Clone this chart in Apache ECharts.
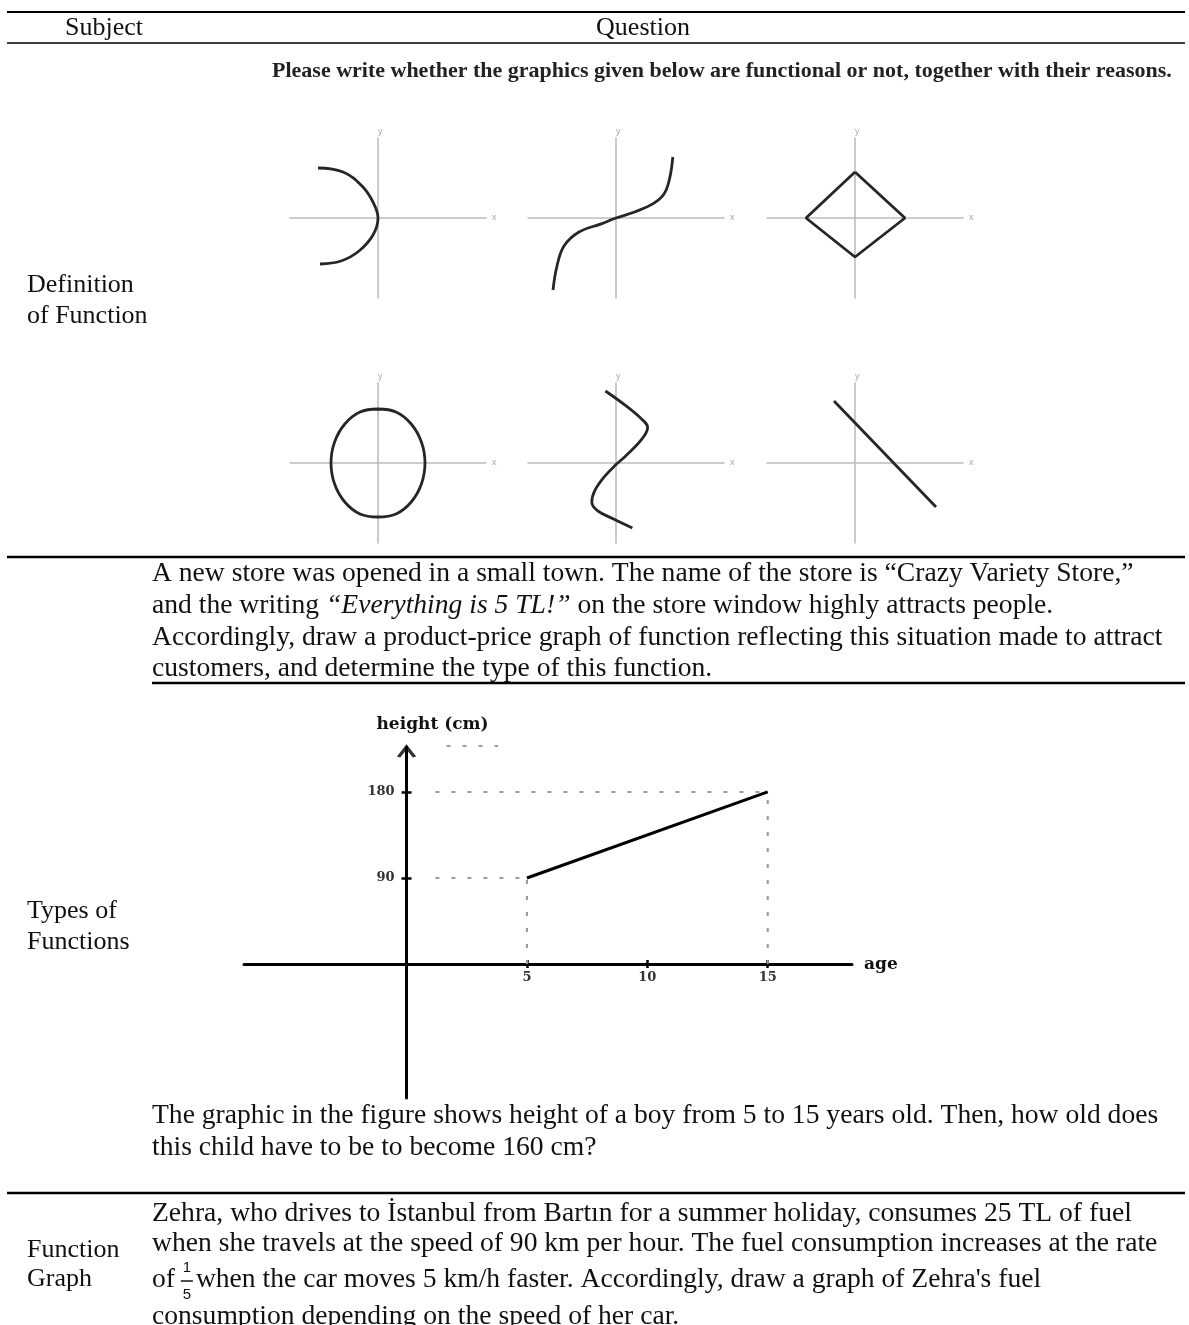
<!DOCTYPE html>
<html>
<head>
<meta charset="utf-8">
<script src="https://cdn.jsdelivr.net/npm/echarts@6/dist/echarts.min.js"></script>
<style>
    html, body { margin: 0; padding: 0; background: #fff; }
    #chart { width: 1189px; height: 1325px; }
</style>
</head>
<body>
<div id="chart"></div>
<script>
'use strict';

// sketches of "Definition of Function" (grid units)
const arcPoints = [[-3.0, 2.5], [-1.75, 2.3], [-0.8, 1.6], [-0.25, 0.8], [0, 0], [-0.25, -0.85], [-0.95, -1.65], [-1.85, -2.15], [-2.9, -2.3]];
const cubicPoints = [[-3.15, -3.6], [-2.95, -2.4], [-2.6, -1.4], [-1.85, -0.7], [-0.7, -0.28], [0, 0], [0.93, 0.3], [1.86, 0.72], [2.4, 1.2], [2.68, 1.97], [2.84, 3.05]];
const diamondPoints = [[0, 2.3], [2.5, 0], [0, -1.95], [-2.45, 0], [0, 2.3]];
const circlePoints = [[0, 2.7], [0.9, 2.55], [1.66, 1.95], [2.17, 1.05], [2.35, 0], [2.17, -1.05], [1.66, -1.95], [0.9, -2.55], [0, -2.7],
    [-0.9, -2.55], [-1.66, -1.95], [-2.17, -1.05], [-2.35, 0], [-2.17, 1.05], [-1.66, 1.95], [-0.9, 2.55], [0, 2.7]];
const wavePoints = [[-0.53, 3.6], [0.47, 2.88], [1.28, 2.2], [1.58, 1.78], [1.28, 1.18], [0.47, 0.34], [0, -0.08], [-0.58, -0.68], [-1.05, -1.36], [-1.21, -1.95], [-0.93, -2.38], [-0.12, -2.8], [0.82, -3.25]];
const slopePoints = [[-1.05, 3.1], [4.05, -2.2]];

// height of a boy chart
const ages = [5, 15];
const heights = [90, 180];
const ageTicks = [5, 10, 15];
const heightTicks = [90, 180];
const guideStart = 1.2;
const topDash = [[1.66, 228], [3.8, 228]];
const ageRange = [-6.75, 18.5];
const heightRange = [-140, 227];

//
const serif = '"Liberation Serif", "Times New Roman", serif';
const wide = '"DejaVu Serif", serif';
const bodySize = 27.6;
const chart = echarts.init(document.getElementById('chart'));

// sketch layout: origin of each little axis cross
const sketchOrigins = [[378, 218], [616, 218], [855, 218], [378, 463], [616, 463], [855, 463]];
const sketchCurves = [arcPoints, cubicPoints, diamondPoints, circlePoints, wavePoints, slopePoints];
const sketchSmooth = [0.4, 0.4, false, 0.4, 0.4, false];
const unit = 20;
const xr = [-4.4, 5.4], yr = [-4, 4];

let grids = [], xAxes = [], yAxes = [], series = [];
sketchOrigins.forEach(function (o, i) {
    grids.push({
        left: o[0] + xr[0] * unit, top: o[1] - yr[1] * unit,
        width: (xr[1] - xr[0]) * unit, height: (yr[1] - yr[0]) * unit
    });
    let thin = {
        axisLine: { onZero: true, lineStyle: { color: '#bdbdbd', width: 1.6 } },
        axisTick: { show: false }, axisLabel: { show: false }, splitLine: { show: false }
    };
    xAxes.push(Object.assign({
        type: 'value', gridIndex: i, min: xr[0], max: xr[1],
        name: 'x', nameGap: 6, nameTextStyle: { color: '#aaa', fontSize: 9 }
    }, thin));
    yAxes.push(Object.assign({
        type: 'value', gridIndex: i, min: yr[0], max: yr[1],
        name: 'y', nameGap: 2, nameTextStyle: { color: '#aaa', fontSize: 9, align: 'left' }
    }, thin));
    series.push({
        type: 'line', xAxisIndex: i, yAxisIndex: i, data: sketchCurves[i],
        smooth: sketchSmooth[i], symbol: 'none', silent: true,
        lineStyle: { color: '#262626', width: 2.8 }
    });
});

// height-age chart: one grid for the crossing axis lines, one sharing the
// same scale but starting at the origin, which carries ticks and labels
const hBox = { left: 244, top: 747, width: 608, height: 351 };
const pxPerAge = hBox.width / (ageRange[1] - ageRange[0]);
const pxPerCm = hBox.height / (heightRange[1] - heightRange[0]);
const originX = hBox.left - ageRange[0] * pxPerAge;

let h = sketchOrigins.length;
let hl = h + 1;
grids.push(hBox);
grids.push({ left: originX, top: hBox.top, width: ageRange[1] * pxPerAge, height: heightRange[1] * pxPerCm });
const boldLabel = { fontFamily: wide, fontWeight: 'bold', fontSize: 13, color: '#333' };
xAxes.push({
    type: 'value', gridIndex: h, min: ageRange[0], max: ageRange[1],
    name: 'age', nameGap: 12,
    nameTextStyle: { fontFamily: wide, fontWeight: 'bold', fontSize: 17, color: '#111', padding: [0, 0, 6, 0] },
    axisLine: { onZero: true, lineStyle: { color: '#000', width: 3 } },
    axisTick: { show: true, inside: true, customValues: ageTicks, length: 4, lineStyle: { color: '#000', width: 2.5 } },
    axisLabel: { show: false }, splitLine: { show: false }
});
yAxes.push({
    type: 'value', gridIndex: h, min: heightRange[0], max: heightRange[1],
    name: 'height (cm)', nameGap: 14,
    nameTextStyle: { fontFamily: wide, fontWeight: 'bold', fontSize: 17, color: '#111', padding: [0, 0, 0, 52] },
    axisLine: { onZero: true, lineStyle: { color: '#000', width: 3 } },
    axisTick: { show: true, inside: true, customValues: heightTicks, length: 5, lineStyle: { color: '#000', width: 2.5 } },
    axisLabel: { show: false }, splitLine: { show: false }
});
xAxes.push({
    type: 'value', gridIndex: hl, min: 0, max: ageRange[1],
    axisLine: { show: false },
    axisTick: { show: true, customValues: ageTicks, length: 4, lineStyle: { color: '#000', width: 2.5 } },
    axisLabel: Object.assign({ customValues: ageTicks, margin: 7 }, boldLabel),
    splitLine: { show: false }
});
yAxes.push({
    type: 'value', gridIndex: hl, min: 0, max: heightRange[1],
    axisLine: { show: false },
    axisTick: { show: true, customValues: heightTicks, length: 5, lineStyle: { color: '#000', width: 2.5 } },
    axisLabel: Object.assign({ customValues: heightTicks, margin: 12 }, boldLabel),
    splitLine: { show: false }
});
let guides = [
    [[guideStart, heights[0]], [ages[0], heights[0]]],
    [[guideStart, heights[1]], [ages[1], heights[1]]],
    [[ages[0], 0], [ages[0], heights[0]]],
    [[ages[1], 0], [ages[1], heights[1]]],
    topDash
];
guides.forEach(function (g) {
    series.push({
        type: 'line', xAxisIndex: h, yAxisIndex: h, data: g, symbol: 'none', silent: true, clip: false,
        lineStyle: { color: '#9a9a9a', width: 2, type: [4, 12] }
    });
});
series.push({
    type: 'line', xAxisIndex: h, yAxisIndex: h, symbol: 'none', silent: true, clip: false,
    data: ages.map(function (a, k) { return [a, heights[k]]; }),
    lineStyle: { color: '#000', width: 3 }
});
// open arrow head on top of the height axis
series.push({
    type: 'scatter', xAxisIndex: h, yAxisIndex: h, data: [[0, heightRange[1]]], clip: false, silent: true,
    symbol: 'path://M0,10 L8,0 L16,10', symbolSize: [16, 10], symbolOffset: [0, 5],
    itemStyle: { color: 'none', borderColor: '#000', borderWidth: 3 }
});

// table rules and text
function rule(x1, y, x2, w) {
    return { type: 'line', silent: true, shape: { x1: x1, y1: y, x2: x2, y2: y }, style: { stroke: '#000', lineWidth: w } };
}
function txt(s, x, y, size, extra) {
    return {
        type: 'text', x: x, y: y, silent: true,
        style: Object.assign({ text: s, font: size + 'px ' + serif, fill: '#111', verticalAlign: 'middle' }, extra || {})
    };
}
let measure = document.createElement('canvas').getContext('2d');
measure.font = bodySize + 'px ' + serif;
let fracX = 152 + measure.measureText('of ').width - 2;
let restX = fracX + 16;
const fracFont = '15px "Liberation Sans", sans-serif';

let elements = [
    rule(7, 12, 1185, 2),
    rule(7, 43, 1185, 1.5),
    rule(7, 557, 1185, 2.5),
    rule(152, 683, 1185, 2.5),
    rule(7, 1193, 1185, 2.5),
    txt('Subject', 104, 28, 26, { align: 'center' }),
    txt('Question', 643, 28, 26, { align: 'center' }),
    txt('Please write whether the graphics given below are functional or not, together with their reasons.', 272, 71, 22,
        { font: 'bold 22px ' + serif, fill: '#222' }),
    txt('Definition', 27, 285, 26),
    txt('of Function', 27, 316, 26),
    txt('A new store was opened in a small town. The name of the store is “Crazy Variety Store,”', 152, 574, bodySize),
    {
        type: 'text', x: 152, y: 606, silent: true,
        style: {
            text: '{n|and the writing }{i|“Everything is 5 TL!”}{n| on the store window highly attracts people.}',
            verticalAlign: 'middle', fill: '#111',
            rich: { n: { font: bodySize + 'px ' + serif, fill: '#111' }, i: { font: 'italic ' + bodySize + 'px ' + serif, fill: '#111' } }
        }
    },
    txt('Accordingly, draw a product-price graph of function reflecting this situation made to attract', 152, 638, bodySize),
    txt('customers, and determine the type of this function.', 152, 669, bodySize),
    txt('Types of', 27, 911, 26),
    txt('Functions', 27, 942, 26),
    txt('The graphic in the figure shows height of a boy from 5 to 15 years old. Then, how old does', 152, 1116, bodySize),
    txt('this child have to be to become 160 cm?', 152, 1148, bodySize),
    txt('Zehra, who drives to İstanbul from Bartın for a summer holiday, consumes 25 TL of fuel', 152, 1214, bodySize),
    txt('when she travels at the speed of 90 km per hour. The fuel consumption increases at the rate', 152, 1244, bodySize),
    txt('of', 152, 1280, bodySize),
    txt('1', fracX + 7, 1268, 15, { font: fracFont, align: 'center' }),
    rule(fracX + 1, 1281, fracX + 13, 1.4),
    txt('5', fracX + 7, 1295, 15, { font: fracFont, align: 'center' }),
    txt('when the car moves 5 km/h faster. Accordingly, draw a graph of Zehra\'s fuel', restX, 1280, bodySize),
    txt('consumption depending on the speed of her car.', 152, 1317, bodySize),
    txt('Function', 27, 1250, 26),
    txt('Graph', 27, 1279, 26)
];

chart.setOption({
    animation: false,
    backgroundColor: '#fff',
    grid: grids,
    xAxis: xAxes,
    yAxis: yAxes,
    series: series,
    graphic: { elements: elements }
});
</script>
</body>
</html>
